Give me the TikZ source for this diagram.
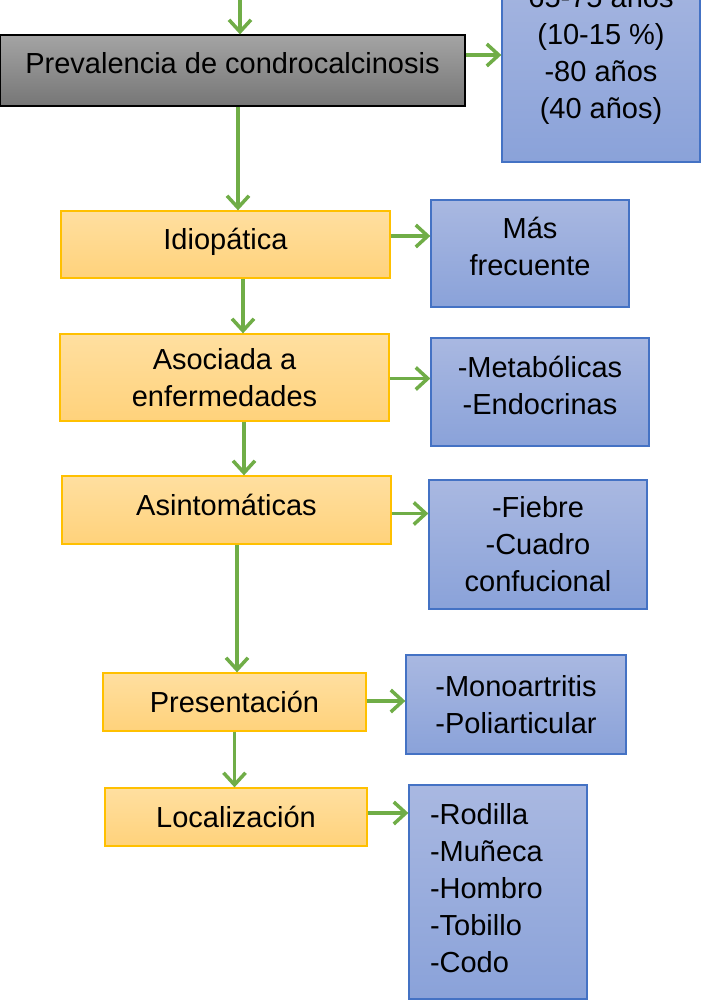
\documentclass[tikz,border=0pt]{standalone}
\usepackage{fontspec}
\setmainfont{Liberation Sans}
\usetikzlibrary{arrows.meta}
\definecolor{arrowgreen}{HTML}{70AD47}
\definecolor{greytop}{HTML}{A4A4A4}
\definecolor{greybot}{HTML}{767676}
\definecolor{orangetop}{HTML}{FFDFA0}
\definecolor{orangebot}{HTML}{FFD27B}
\definecolor{orangeline}{HTML}{FFC000}
\definecolor{bluetop}{HTML}{A9B8E1}
\definecolor{bluebot}{HTML}{8AA2D9}
\definecolor{blueline}{HTML}{4472C4}
\tikzset{line/.style={draw, arrowgreen, line width=3.5pt, -{Straight Barb[length=12pt,width=22pt]}}}

\begin{document}
\begin{tikzpicture}[x=1pt,y=-1pt]
\tikzstyle{block} = [rectangle, draw, inner sep=2pt, align=center, font=\fontsize{29}{37}\selectfont]
\tikzstyle{grey} = [block, draw=black, line width=1.2pt, top color=greytop, bottom color=greybot]
\tikzstyle{cause} = [block, draw=orangeline, line width=1.3pt, top color=orangetop, bottom color=orangebot]
\tikzstyle{note} = [block, draw=blueline, line width=1.3pt, top color=bluetop, bottom color=bluebot]

\useasboundingbox (0,0) rectangle (710,1003);
\clip (0,0) rectangle (710,1003);

% blocks
    \node [grey, minimum width=465, minimum height=71, text depth=16pt] (prev) at (232.5,70.5) {Prevalencia de condrocalcinosis};
    \node [note, minimum width=198, minimum height=213] (edad) at (601,55.5) {65-75 años\\(10-15 \%)\\-80 años\\(40 años)};
    \node [cause, minimum width=329, minimum height=67, text depth=11pt] (idio) at (225.5,244.5) {Idiopática};
    \node [note, minimum width=198, minimum height=107, text depth=14pt] (frec) at (530,253.5) {Más\\frecuente};
    \node [cause, minimum width=329, minimum height=87] (asoc) at (224.5,377.5) {Asociada a\\enfermedades};
    \node [note, minimum width=218, minimum height=108, text depth=14pt] (metab) at (540,392) {-Metabólicas\\-Endocrinas};
    \node [cause, minimum width=329, minimum height=68, text depth=11pt] (asint) at (226.5,510) {Asintomáticas};
    \node [note, minimum width=218, minimum height=129] (fiebre) at (538,544.5) {-Fiebre\\-Cuadro\\confucional};
    \node [cause, minimum width=263, minimum height=58] (pres) at (234.5,702) {Presentación};
    \node [note, minimum width=220, minimum height=99] (mono) at (516,704.5) {-Monoartritis\\-Poliarticular};
    \node [cause, minimum width=262, minimum height=58] (loc) at (236,817) {Localización};
    \node [note, minimum width=178, minimum height=214, text width=136, align=left, text depth=156pt] (rod) at (498,892) {-Rodilla\\-Muñeca\\-Hombro\\-Tobillo\\-Codo};
    \coordinate (start) at (240,-5);
% arrows
    \path [line] (start) -- (start |- prev.north);
    \path [line] ([xshift=5.5]prev.south) -- ([xshift=5.5]prev.south |- idio.north);
    \path [line] ([xshift=17.5]idio.south) -- ([xshift=17.5]idio.south |- asoc.north);
    \path [line] ([xshift=19.5]asoc.south) -- ([xshift=19.5]asoc.south |- asint.north);
    \path [line] ([xshift=10.5]asint.south) -- ([xshift=10.5]asint.south |- pres.north);
    \path [line] (pres.south) -- (pres.south |- loc.north);
    \path [line] ([yshift=15.5]prev.east) -- ([yshift=15.5]prev.east -| edad.west);
    \path [line] ([yshift=8.5]idio.east) -- ([yshift=8.5]idio.east -| frec.west);
    \path [line] ([yshift=-1]asoc.east) -- ([yshift=-1]asoc.east -| metab.west);
    \path [line] ([yshift=-3.5]asint.east) -- ([yshift=-3.5]asint.east -| fiebre.west);
    \path [line] ([yshift=1]pres.east) -- ([yshift=1]pres.east -| mono.west);
    \path [line] ([yshift=4]loc.east) -- ([yshift=4]loc.east -| rod.west);
\end{tikzpicture}
\end{document}
